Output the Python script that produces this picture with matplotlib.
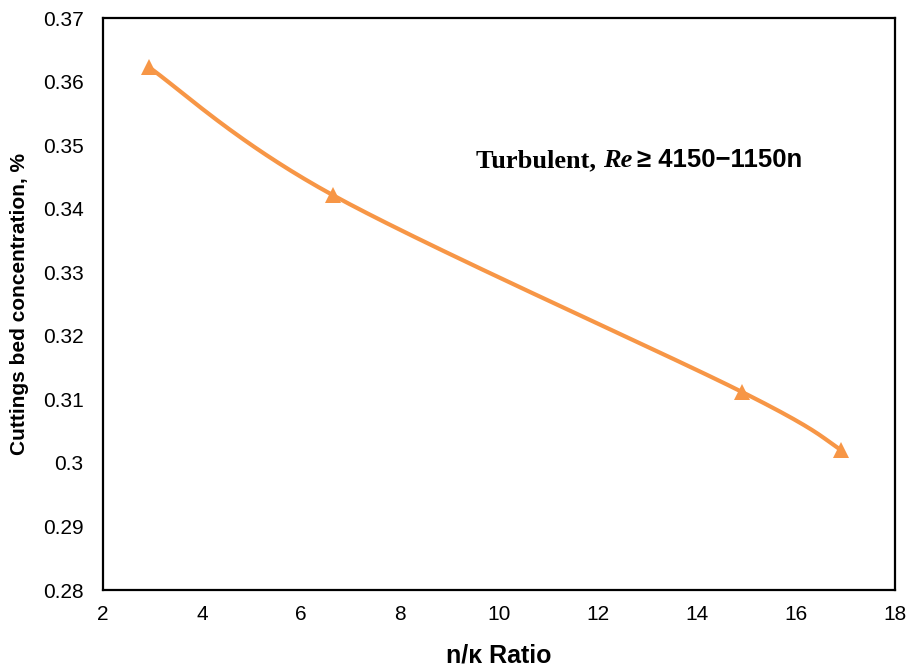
import numpy as np
import matplotlib
matplotlib.use("Agg")
from matplotlib import pyplot as plt

# n/k ratio vs cuttings bed concentration (turbulent regime)
ratio = [2.92, 6.65, 14.9, 16.9]
conc = [0.3623, 0.3421, 0.3112, 0.3021]

xticks = [2, 4, 6, 8, 10, 12, 14, 16, 18]
yticks = [0.28, 0.29, 0.3, 0.31, 0.32, 0.33, 0.34, 0.35, 0.36, 0.37]
ytick_labels = ["0.28", "0.29", "0.3", "0.31", "0.32", "0.33", "0.34", "0.35", "0.36", "0.37"]

orange = "#F79646"

plt.rcParams['font.family'] = ['Liberation Sans', 'DejaVu Sans']

fig = plt.figure(figsize=(9.1, 6.67), dpi=100)
ax = fig.add_axes([0.1132, 0.1154, 0.8703, 0.8576])

x0, x1 = 2, 18
y0, y1 = 0.28, 0.37
aspect = 0.72  # axes height / width, keeps the tension even in both directions


def smooth_curve(xs, ys, t=1 / 6, steps=60):
    # cubic bezier through the points, like a spreadsheet smoothed line
    pts = np.column_stack([(np.array(xs) - x0) / (x1 - x0),
                           (np.array(ys) - y0) / (y1 - y0) * aspect])
    n = len(pts)
    s = np.linspace(0, 1, steps)[:, None]
    out = [pts[:1]]
    for i in range(n - 1):
        p0 = pts[max(i - 1, 0)]
        p1 = pts[i]
        p2 = pts[i + 1]
        p3 = pts[min(i + 2, n - 1)]
        c1 = p1 + (p2 - p0) * t
        c2 = p2 - (p3 - p1) * t
        seg = ((1 - s) ** 3 * p1 + 3 * (1 - s) ** 2 * s * c1
               + 3 * (1 - s) * s ** 2 * c2 + s ** 3 * p2)
        out.append(seg[1:])
    c = np.vstack(out)
    return c[:, 0] * (x1 - x0) + x0, c[:, 1] / aspect * (y1 - y0) + y0


cx, cy = smooth_curve(ratio, conc)
ax.plot(cx, cy, color=orange, lw=3, solid_capstyle='round', zorder=2)
ax.plot(ratio, conc, linestyle='none', marker='^', ms=12, color=orange,
        markeredgewidth=0, zorder=3)

ax.set_xlim(x0, x1)
ax.set_ylim(y0, y1)
ax.set_xticks(xticks)
ax.set_yticks(yticks)
ax.set_yticklabels(ytick_labels)
ax.tick_params(length=0, labelsize=15)
ax.tick_params(axis='y', pad=14)
ax.tick_params(axis='x', pad=11)
for s in ax.spines.values():
    s.set_linewidth(1.6)
    s.set_color('black')

ax.set_xlabel("n/\u03ba Ratio", fontsize=18, fontweight='bold', labelpad=14)
ax.set_ylabel("Cuttings bed concentration, %", fontsize=15, fontweight='bold', labelpad=10)

# annotation built from three pieces with different fonts
fig.canvas.draw()
r = fig.canvas.get_renderer()
ty = 1 - 167 / 667
t1 = fig.text(476 / 910, ty, "Turbulent, ", family='Liberation Serif',
              fontweight='bold', fontsize=19)
bb = t1.get_window_extent(r)
t2 = fig.text(bb.x1 / 910, ty, "Re", family='Liberation Serif',
              fontweight='bold', style='italic', fontsize=19)
bb = t2.get_window_extent(r)
fig.text(bb.x1 / 910 + 0.006, ty, "\u2265 4150\u22121150n",
         family=['Liberation Sans', 'DejaVu Sans'], fontweight='bold', fontsize=18.5)

fig.savefig("out.png", dpi=100)
